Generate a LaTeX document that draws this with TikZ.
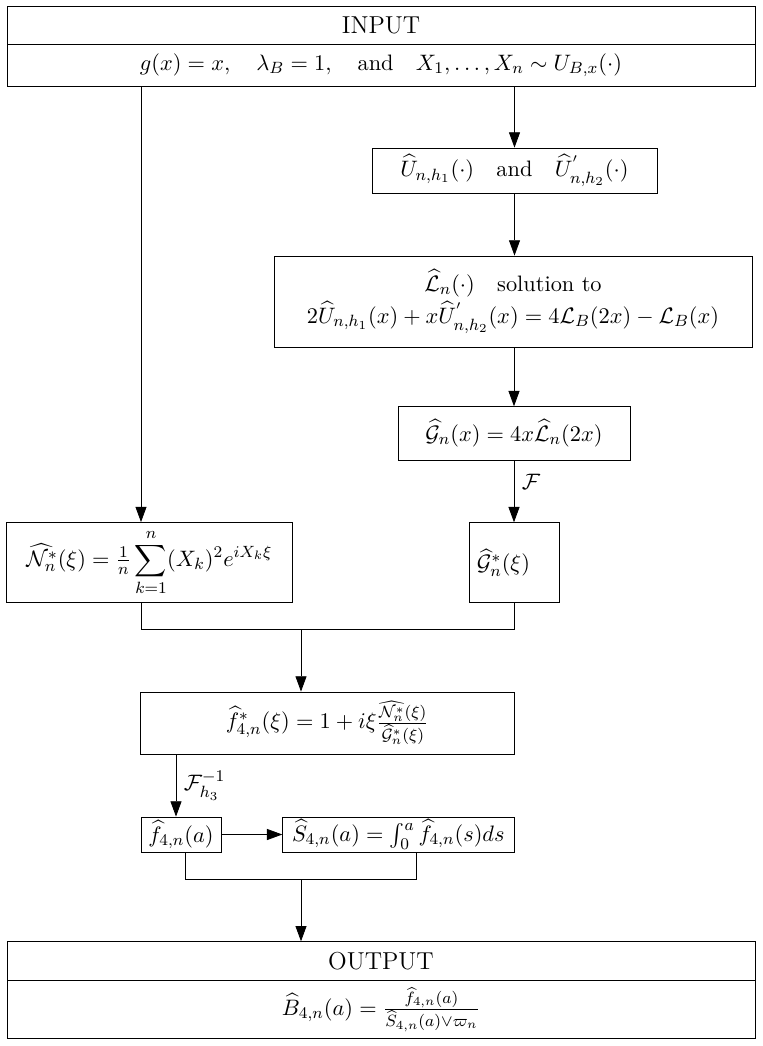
\documentclass[11pt,tikz,border=0pt]{standalone}
\usepackage{tikz}
\usetikzlibrary{arrows.meta}
\usepackage{amsmath,amssymb,amsfonts}

\begin{document}
\begin{tikzpicture}[x=0.49pt,y=-0.49pt,
  box/.style={rectangle,draw,inner sep=0pt,align=center},
  arr/.style={-{Triangle[length=7.5pt,width=5.4pt]}}]
  \useasboundingbox (0,0) rectangle (762,1046);
  % input
  \node [box,minimum width=366.5pt,minimum height=19pt] (in1) at (381,25.3) {\large INPUT};
  \node [box,minimum width=366.5pt,minimum height=20.2pt] (in2) at (381,65.3)
    {$g(x)=x,\quad\lambda_B=1,\quad\text{and}\quad X_1,\dots,X_n\sim U_{B,x}(\cdot)$};
  % right branch
  \node [box,minimum width=139.6pt,minimum height=22pt] (u) at (514.5,170.5)
    {$\widehat{U}_{n,h_1}(\cdot)\quad\text{and}\quad\widehat{U}^{'}_{n,h_2}(\cdot)$};
  \node [box,minimum width=234.2pt,minimum height=44.6pt] (lb) at (513,301.5)
    {$\widehat{\mathcal{L}}_n(\cdot)\quad\text{solution to}$\\[2pt]
     $2\widehat{U}_{n,h_1}(x)+x\widehat{U}^{'}_{n,h_2}(x)=4\mathcal{L}_B(2x)-\mathcal{L}_B(x)$};
  \node [box,minimum width=113.7pt,minimum height=26.1pt] (g) at (514,433.3)
    {$\widehat{\mathcal{G}}_n(x)=4x\widehat{\mathcal{L}}_n(2x)$};
  \node [box,text width=36.3pt,inner xsep=3.9pt,align=left,minimum height=39.2pt] (gs) at (514,562.7)
    {$\widehat{\mathcal{G}}^*_n(\xi)$};
  % left branch
  \node [box,minimum width=140pt,minimum height=39.2pt] (nb) at (149.5,562.5)
    {$\widehat{\mathcal{N}^*_n}(\xi)=\tfrac{1}{n}\displaystyle\sum_{k=1}^{n}(X_k)^2e^{iX_k\xi}$};
  % middle
  \node [box,minimum width=182.9pt,minimum height=30.4pt] (fs) at (327.3,723)
    {$\widehat{f}^*_{4,n}(\xi)=1+i\xi\frac{\widehat{\mathcal{N}^*_n}(\xi)}{\widehat{\mathcal{G}}^*_n(\xi)}$};
  \node [box,minimum width=39.2pt,minimum height=17.15pt] (fa) at (181,834.5)
    {$\widehat{f}_{4,n}(a)$};
  \node [box,minimum width=113.3pt,minimum height=17.15pt] (sb) at (398.3,834.5)
    {$\widehat{S}_{4,n}(a)=\int_0^a\widehat{f}_{4,n}(s)ds$};
  % output
  \node [box,minimum width=366.5pt,minimum height=19.1pt] (out1) at (381,961.2) {\large OUTPUT};
  \node [box,minimum width=366.5pt,minimum height=28.2pt] (out2) at (381,1009.5)
    {$\widehat{B}_{4,n}(a)=\frac{\widehat{f}_{4,n}(a)}{\widehat{S}_{4,n}(a)\vee\varpi_n}$};

  \coordinate (xl) at (141,0);
  \coordinate (xf) at (176,0);
  \coordinate (xa) at (185,0);
  \coordinate (xb) at (416,0);
  \coordinate (j1) at (301,629.3);
  \coordinate (j2) at (301,879);

  \draw [arr] (in2.south -| xl) -- (nb.north -| xl);
  \draw [arr] (in2.south -| u.north) -- (u.north);
  \draw [arr] (u.south) -- (lb.north -| u.south);
  \draw [arr] (lb.south -| g.north) -- (g.north);
  \draw [arr] (g.south) -- node[right,pos=0.35] {$\mathcal{F}$} (gs.north);
  \draw (nb.south -| xl) |- (j1) -| (gs.south);
  \draw [arr] (j1) -- (fs.north -| j1);
  \draw [arr] (fs.south -| xf) -- node[right] {$\mathcal{F}^{-1}_{h_3}$} (fa.north -| xf);
  \draw [arr] (fa.east) -- (sb.west);
  \draw (fa.south -| xa) |- (j2) -| (sb.south -| xb);
  \draw [arr] (j2) -- (out1.north -| j2);
\end{tikzpicture}
\end{document}
